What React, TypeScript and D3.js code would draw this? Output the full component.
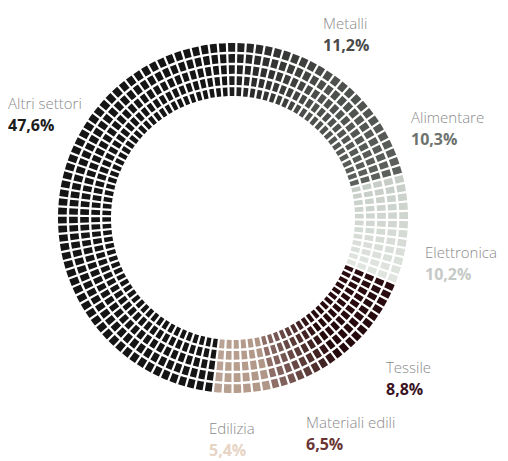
import React from "react";
import * as d3 from "d3";

const categories = ["Metalli", "Alimentare", "Elettronica", "Tessile", "Materiali edili", "Edilizia", "Altri settori"];
const values = [11.2, 10.3, 10.2, 8.8, 6.5, 5.4, 47.6];
const valueLabels = ["11,2%", "10,3%", "10,2%", "8,8%", "6,5%", "5,4%", "47,6%"];
const colorStart = ["#1e1e1e", "#4c504c", "#c6ccc6", "#2a0c10", "#341618", "#b09686", "#151515"];
const colorEnd = ["#4e514e", "#5c605c", "#e0e5e0", "#24090c", "#8e6e66", "#baa294", "#151515"];
const valueColors = ["#4a4a4a", "#6e726e", "#c6cac6", "#3a1422", "#6a3434", "#e6d4c4", "#1c1c1c"];
const labelPos: [number, number][] = [
  [323, 29], [411, 123], [425, 258], [386, 373], [306, 428], [209, 434], [8, 109],
];

const W = 508, H = 461;
const cx = 233, cy = 218;
const rInner = 122, rOuter = 175;
const rings = 5;
const ringGap = 2.4;
const cellGapPx = 2.2;
const stepAngle = (3 * Math.PI) / 180;
const startAngle = -0.035;

export default function App() {
  const pie = d3.pie<number>().sort(null).value((d) => d).startAngle(startAngle).endAngle(startAngle + 2 * Math.PI);
  const arcs = pie(values);
  const ringW = (rOuter - rInner - ringGap * (rings - 1)) / rings;
  const arcGen = d3.arc<any>();
  const cells: JSX.Element[] = [];
  arcs.forEach((a, si) => {
    const span = a.endAngle - a.startAngle;
    const n = Math.max(1, Math.round(span / stepAngle));
    const step = span / n;
    const interp = d3.interpolateRgb(colorStart[si], colorEnd[si]);
    for (let ri = 0; ri < rings; ri++) {
      const r0 = rInner + ri * (ringW + ringGap);
      const r1 = r0 + ringW;
      const gapA = cellGapPx / ((r0 + r1) / 2);
      for (let j = 0; j < n; j++) {
        const a0 = a.startAngle + j * step + gapA / 2;
        const a1 = a.startAngle + (j + 1) * step - gapA / 2;
        const t = n > 1 ? j / (n - 1) : 0;
        const d = arcGen({ innerRadius: r0, outerRadius: r1, startAngle: a0, endAngle: a1 });
        cells.push(<path key={`${si}-${ri}-${j}`} d={d || ""} fill={interp(t)} />);
      }
    }
  });
  return (
    <svg width={W} height={H} style={{ position: "absolute", left: 0, top: 0, background: "#fff" }}
      fontFamily="'Open Sans', 'Noto Sans', sans-serif">
      <rect width={W} height={H} fill="#fff" />
      <g transform={`translate(${cx},${cy})`}>{cells}</g>
      {categories.map((c, i) => (
        <g key={c} transform={`translate(${labelPos[i][0]},${labelPos[i][1]})`}>
          <text fontSize={15} fontWeight={300} fill="#8a8a8a">{c}</text>
          <text y={21.5} fontSize={16} fontWeight={700} fill={valueColors[i]}>{valueLabels[i]}</text>
        </g>
      ))}
    </svg>
  );
}
